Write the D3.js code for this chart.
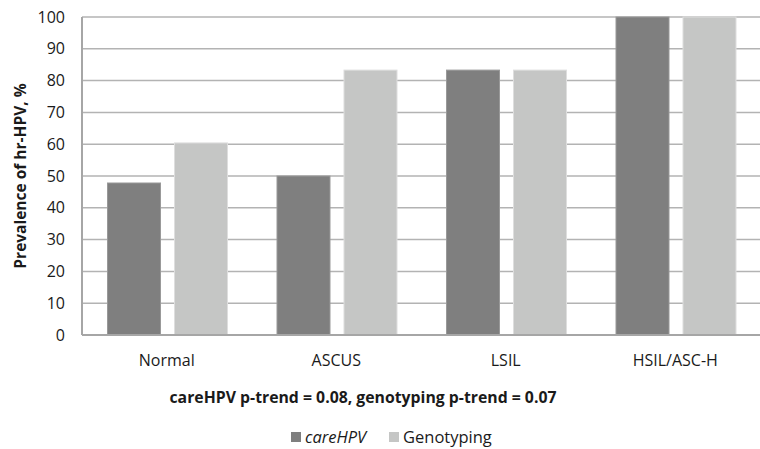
<!DOCTYPE html>
<html>
<head>
<meta charset="utf-8">
<script src="https://cdn.jsdelivr.net/npm/d3@7"></script>
<style>
  body { margin: 0; background: #fff; }
  svg { display: block; font-family: "Open Sans", "Liberation Sans", sans-serif; }
</style>
</head>
<body>
<div id="chart"></div>
<script>
const categories = ["Normal", "ASCUS", "LSIL", "HSIL/ASC-H"];
const seriesNames = ["careHPV", "Genotyping"];
const careHPV = [47.8, 50, 83.3, 100];
const genotyping = [60.4, 83.3, 83.3, 100];
const yTicks = [0, 10, 20, 30, 40, 50, 60, 70, 80, 90, 100];

const colors = { careHPV: "#7f7f7f", Genotyping: "#c5c6c5" };

const width = 760;
const height = 449;
const margin = { top: 17, right: 0, bottom: 114, left: 82 };

const svg = d3.select("#chart")
  .append("svg")
  .attr("width", width)
  .attr("height", height);

const x = d3.scaleBand()
  .domain(categories)
  .range([margin.left, width - margin.right]);

const y = d3.scaleLinear()
  .domain([0, 100])
  .range([height - margin.bottom, margin.top]);

// gridlines
svg.append("g")
  .selectAll("line")
  .data(yTicks.filter(d => d > 0))
  .join("line")
  .attr("x1", margin.left)
  .attr("x2", width - margin.right)
  .attr("y1", d => y(d))
  .attr("y2", d => y(d))
  .attr("stroke", "#b3b3b3")
  .attr("stroke-width", 1.5);

// tick labels
svg.append("g")
  .selectAll("text")
  .data(yTicks)
  .join("text")
  .attr("x", 65)
  .attr("y", d => y(d))
  .attr("dy", "0.35em")
  .attr("text-anchor", "end")
  .attr("font-size", 16)
  .attr("fill", "#1a1a1a")
  .text(d => d);

// bars
const rows = categories.map((c, i) => ({ category: c, values: [careHPV[i], genotyping[i]] }));
const barWidth = 53;
const barOffsets = [25.5, 92.5];

const groups = svg.append("g")
  .selectAll("g")
  .data(rows)
  .join("g")
  .attr("transform", d => `translate(${x(d.category)},0)`);

groups.selectAll("rect")
  .data(d => d.values.map((v, i) => ({ value: v, series: seriesNames[i], index: i })))
  .join("rect")
  .attr("x", d => barOffsets[d.index])
  .attr("y", d => y(d.value))
  .attr("width", barWidth)
  .attr("height", d => y(0) - y(d.value))
  .attr("fill", d => colors[d.series])
  .attr("stroke", d => d.index === 0 ? "#999999" : "#dedede")
  .attr("stroke-width", 1);

// axes lines
svg.append("line")
  .attr("x1", margin.left)
  .attr("x2", margin.left)
  .attr("y1", margin.top)
  .attr("y2", y(0))
  .attr("stroke", "#a6a6a6")
  .attr("stroke-width", 2);

svg.append("line")
  .attr("x1", margin.left)
  .attr("x2", width)
  .attr("y1", y(0))
  .attr("y2", y(0))
  .attr("stroke", "#a6a6a6")
  .attr("stroke-width", 2);

// category labels
svg.append("g")
  .selectAll("text")
  .data(categories)
  .join("text")
  .attr("x", d => x(d) + x.bandwidth() / 2)
  .attr("y", 366)
  .attr("text-anchor", "middle")
  .attr("font-size", 16)
  .attr("fill", "#1a1a1a")
  .text(d => d);

// y axis title
svg.append("text")
  .attr("transform", `translate(21,${(margin.top + y(0)) / 2}) rotate(-90)`)
  .attr("text-anchor", "middle")
  .attr("dy", "0.35em")
  .attr("font-size", 15.5)
  .attr("font-weight", "bold")
  .attr("fill", "#1a1a1a")
  .text("Prevalence of hr-HPV, %");

// p-trend note
svg.append("text")
  .attr("x", 363)
  .attr("y", 403)
  .attr("text-anchor", "middle")
  .attr("font-size", 15.8)
  .attr("font-weight", "bold")
  .attr("fill", "#1a1a1a")
  .text("careHPV p-trend = 0.08, genotyping p-trend = 0.07");

// legend
const legendItems = [
  { name: "careHPV", x: 291, italic: true },
  { name: "Genotyping", x: 389, italic: false }
];
const legend = svg.append("g")
  .selectAll("g")
  .data(legendItems)
  .join("g")
  .attr("transform", d => `translate(${d.x},432)`);

legend.append("rect")
  .attr("width", 10)
  .attr("height", 10)
  .attr("fill", d => colors[d.name]);

legend.append("text")
  .attr("x", 14)
  .attr("y", 5)
  .attr("dy", "0.35em")
  .attr("font-size", 16.5)
  .attr("font-style", d => d.italic ? "italic" : "normal")
  .attr("fill", "#1a1a1a")
  .text(d => d.name);
</script>
</body>
</html>
